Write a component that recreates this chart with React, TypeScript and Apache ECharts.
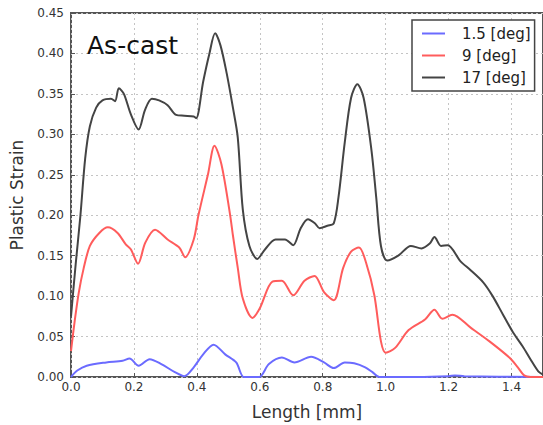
import React, { useEffect, useRef } from "react";
import * as echarts from "echarts";

const xTicks = [0, 0.2, 0.4, 0.6, 0.8, 1.0, 1.2, 1.4];
const seriesNames = ["1.5 [deg]", "9 [deg]", "17 [deg]"];

const blueX = [0, 0.02, 0.05, 0.112, 0.164, 0.186, 0.215, 0.25, 0.287, 0.33, 0.36, 0.39, 0.42, 0.453, 0.49, 0.525, 0.549, 0.575, 0.598, 0.629, 0.67, 0.71, 0.763, 0.804, 0.835, 0.87, 0.9, 0.935, 0.958, 0.98, 1.1, 1.2, 1.22, 1.25, 1.5];
const blueY = [0, 0.008, 0.014, 0.018, 0.02, 0.023, 0.014, 0.022, 0.016, 0.006, 0.001, 0.012, 0.028, 0.04, 0.028, 0.018, 0, 0, 0, 0.016, 0.024, 0.018, 0.025, 0.018, 0.011, 0.018, 0.017, 0.012, 0.006, 0, 0, 0.001, 0.002, 0.001, 0];

const redX = [0, 0.012, 0.025, 0.04, 0.06, 0.09, 0.117, 0.148, 0.174, 0.19, 0.213, 0.236, 0.267, 0.307, 0.344, 0.363, 0.39, 0.405, 0.435, 0.456, 0.478, 0.505, 0.515, 0.53, 0.546, 0.577, 0.6, 0.64, 0.67, 0.706, 0.742, 0.774, 0.804, 0.835, 0.865, 0.89, 0.915, 0.938, 0.964, 0.985, 1.0, 1.03, 1.073, 1.125, 1.155, 1.18, 1.212, 1.27, 1.33, 1.393, 1.42, 1.44, 1.46, 1.5];
const redY = [0.032, 0.07, 0.105, 0.134, 0.162, 0.178, 0.185, 0.178, 0.164, 0.158, 0.14, 0.166, 0.182, 0.17, 0.16, 0.148, 0.17, 0.2, 0.25, 0.286, 0.263, 0.202, 0.174, 0.135, 0.097, 0.073, 0.085, 0.118, 0.119, 0.101, 0.119, 0.125, 0.105, 0.095, 0.135, 0.155, 0.16, 0.141, 0.101, 0.044, 0.03, 0.036, 0.058, 0.071, 0.083, 0.072, 0.077, 0.061, 0.044, 0.024, 0.012, 0.002, 0, 0];

const blackX = [0, 0.015, 0.03, 0.045, 0.06, 0.08, 0.1, 0.127, 0.14, 0.152, 0.168, 0.19, 0.215, 0.235, 0.257, 0.28, 0.307, 0.334, 0.36, 0.39, 0.398, 0.42, 0.44, 0.458, 0.475, 0.495, 0.515, 0.53, 0.546, 0.567, 0.592, 0.617, 0.65, 0.68, 0.706, 0.73, 0.753, 0.775, 0.79, 0.815, 0.835, 0.85, 0.87, 0.89, 0.91, 0.93, 0.955, 0.97, 0.985, 1.005, 1.04, 1.08, 1.114, 1.14, 1.155, 1.176, 1.197, 1.238, 1.27, 1.31, 1.34, 1.373, 1.405, 1.435, 1.46, 1.485, 1.5];
const blackY = [0.075, 0.14, 0.2, 0.27, 0.31, 0.333, 0.342, 0.344, 0.341, 0.357, 0.35, 0.325, 0.306, 0.33, 0.344, 0.342, 0.336, 0.324, 0.323, 0.322, 0.32, 0.365, 0.4, 0.425, 0.41, 0.375, 0.332, 0.296, 0.207, 0.162, 0.146, 0.158, 0.17, 0.17, 0.163, 0.184, 0.195, 0.19, 0.184, 0.187, 0.19, 0.222, 0.29, 0.345, 0.362, 0.345, 0.28, 0.222, 0.162, 0.144, 0.15, 0.162, 0.159, 0.165, 0.173, 0.162, 0.163, 0.143, 0.132, 0.117, 0.1, 0.077, 0.055, 0.038, 0.022, 0.007, 0.003];

const colors = ["#6b6bff", "#ff5c5c", "#444444"];
const FONT = "DejaVu Sans";

function pairs(xs: number[], ys: number[]) {
  return xs.map((x, i) => [x, ys[i]]);
}

export default function App() {
  const ref = useRef<HTMLDivElement>(null);
  useEffect(() => {
    if (!ref.current) return;
    const chart = echarts.init(ref.current, undefined, { renderer: "svg" });
    const mk = (name: string, data: number[][], color: string) => ({
      name,
      type: "line",
      data,
      smooth: 0.3,
      symbol: "none",
      lineStyle: { color, width: 2 },
      itemStyle: { color },
      clip: true,
    });
    chart.setOption({
      animation: false,
      backgroundColor: "#ffffff",
      grid: {
        left: 64,
        top: 13,
        right: -4,
        bottom: 42,
        show: true,
        borderColor: "#555",
        borderWidth: 2,
        backgroundColor: "transparent",
      },
      xAxis: {
        type: "value",
        min: 0,
        max: 1.5,
        interval: 0.2,
        name: "Length [mm]",
        nameLocation: "middle",
        nameGap: 26,
        nameTextStyle: { fontFamily: FONT, fontSize: 17, color: "#333" },
        axisLine: { show: false },
        axisTick: { show: true, inside: true, length: 4, lineStyle: { color: "#555" } },
        axisLabel: {
          showMaxLabel: false,
          fontFamily: FONT,
          fontSize: 12,
          color: "#333",
          margin: 4,
          formatter: (v: number) => (xTicks.includes(Math.round(v * 10) / 10) ? v.toFixed(1) : ""),
        },
        splitLine: { show: true, lineStyle: { color: "#c4c4c4", type: [2, 3], width: 1 } },
      },
      yAxis: {
        type: "value",
        min: 0,
        max: 0.45,
        interval: 0.05,
        name: "Plastic Strain",
        nameLocation: "middle",
        nameGap: 46,
        nameTextStyle: { fontFamily: FONT, fontSize: 17, color: "#333" },
        axisLine: { show: false },
        axisTick: { show: true, inside: true, length: 4, lineStyle: { color: "#555" } },
        axisLabel: {
          fontFamily: FONT,
          fontSize: 12,
          color: "#333",
          margin: 7,
          formatter: (v: number) => v.toFixed(2),
        },
        splitLine: { show: true, lineStyle: { color: "#c4c4c4", type: [2, 3], width: 1 } },
      },
      legend: {
        data: seriesNames.map((n) => ({ name: n, icon: "rect" })),
        orient: "vertical",
        left: 412,
        top: 20,
        padding: [6, 4, 6, 10],
        itemWidth: 23,
        itemHeight: 2,
        itemGap: 7,
        backgroundColor: "#fff",
        borderColor: "#444",
        borderWidth: 1.5,
        textStyle: { fontFamily: FONT, fontSize: 15, color: "#222", padding: [0, 0, 0, 12] },
      },
      graphic: [
        {
          type: "text",
          left: 87,
          top: 33,
          style: { text: "As-cast", font: `25px "${FONT}"`, fill: "#111" },
          z: 10,
        },
      ],
      series: [
        mk(seriesNames[0], pairs(blueX, blueY), colors[0]),
        mk(seriesNames[1], pairs(redX, redY), colors[1]),
        mk(seriesNames[2], pairs(blackX, blackY), colors[2]),
      ],
    });
    return () => chart.dispose();
  }, []);
  return (
    <div
      ref={ref}
      style={{ position: "absolute", left: 0, top: 0, width: 543, height: 425 }}
    />
  );
}
